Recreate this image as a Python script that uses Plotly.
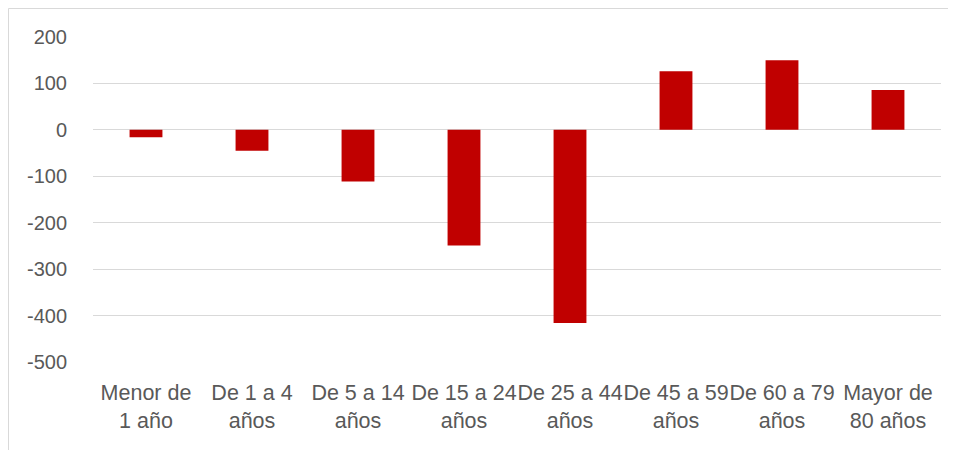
import plotly.graph_objects as go

categories = ["Menor de 1 año", "De 1 a 4 años", "De 5 a 14 años", "De 15 a 24 años",
              "De 25 a 44 años", "De 45 a 59 años", "De 60 a 79 años", "Mayor de 80 años"]
tick_labels = ["Menor de<br>1 año", "De 1 a 4<br>años", "De 5 a 14<br>años", "De 15 a 24<br>años",
               "De 25 a 44<br>años", "De 45 a 59<br>años", "De 60 a 79<br>años", "Mayor de<br>80 años"]
values = [-16, -45, -111, -249, -416, 126, 150, 86]
y_ticks = [200, 100, 0, -100, -200, -300, -400, -500]

fig = go.Figure(go.Bar(x=categories, y=values, marker=dict(color="#C00000", line=dict(width=0))))

yfont = dict(family="Liberation Sans, sans-serif", size=20, color="#595959")
xfont = dict(family="Liberation Sans, sans-serif", size=21.5, color="#595959")

# plot area in figure pixels: x 85..933, y 29..354 (page adds 8px body margin)
L, R, T, B = 85, 23, 29, 96
pw, ph = 956 - L - R, 450 - T - B

fig.update_layout(
    width=956, height=450,
    margin=dict(l=L, r=R, t=T, b=B, autoexpand=False),
    paper_bgcolor="white", plot_bgcolor="rgba(0,0,0,0)",
    bargap=0.69, showlegend=False, font=yfont,
    shapes=[
        dict(type="rect", xref="paper", yref="paper",
             x0=(0.5 - L) / pw, x1=(956 - L + 5) / pw,
             y0=-(B + 5) / ph, y1=(ph + T - 0.5) / ph,
             fillcolor="rgba(0,0,0,0)", line=dict(color="#d9d9d9", width=1), layer="below"),
    ],
)
fig.update_xaxes(
    type="category", tickvals=categories, ticktext=tick_labels, automargin=False,
    showgrid=False, zeroline=False, showline=False,
    ticks="outside", ticklen=11, tickcolor="rgba(0,0,0,0)",
    tickfont=xfont, tickangle=0,
)
fig.update_yaxes(
    range=[-500, 200], tickvals=y_ticks, ticktext=[str(v) for v in y_ticks], automargin=False,
    showgrid=True, gridcolor="#d9d9d9", gridwidth=1,
    zeroline=True, zerolinecolor="#d9d9d9", zerolinewidth=1,
    showline=False, ticks="outside", ticklen=21, tickcolor="rgba(0,0,0,0)",
    tickfont=yfont,
)
fig.write_html("out.html")
